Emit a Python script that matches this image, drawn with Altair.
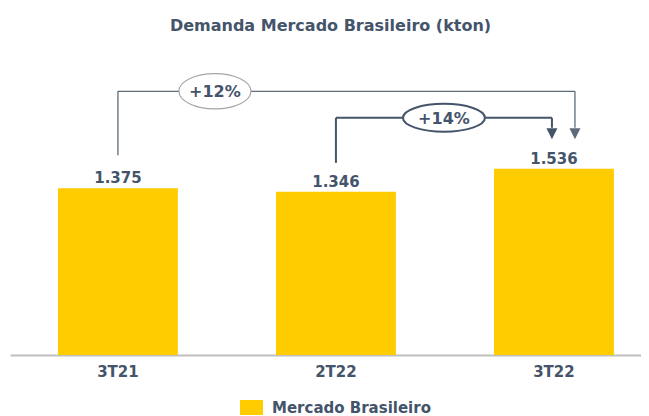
import altair as alt
import pandas as pd

# ---- data ----
categories = ["3T21", "2T22", "3T22"]
values = [1375, 1346, 1536]            # kton
series_name = "Mercado Brasileiro"
title_text = "Demanda Mercado Brasileiro (kton)"
comparisons = [("3T21", "3T22"), ("2T22", "3T22")]

# ---- derived ----
value_labels = [f"{v:,}".replace(",", ".") for v in values]
df = pd.DataFrame({"cat": categories, "value": values,
                   "label": value_labels, "serie": series_name})
val = dict(zip(categories, values))

DARK = "#44546A"
FONT = "DejaVu Sans"
YELLOW = "#FFCC00"

xscale = alt.Scale(domain=categories, paddingInner=0.45,
                   paddingOuter=0.1722, align=0.639)
yscale = alt.Scale(domain=[0, 2615], nice=False, zero=True)

xaxis = alt.Axis(title=None, labelAngle=0, domainColor="#BFBFBF",
                 domainWidth=2, ticks=False, labelFont=FONT,
                 labelFontSize=15, labelFontWeight="bold",
                 labelColor=DARK, labelPadding=9, grid=False)

bars = alt.Chart(df).mark_bar().encode(
    x=alt.X("cat:N", scale=xscale, axis=xaxis, sort=categories),
    y=alt.Y("value:Q", scale=yscale, axis=None),
    color=alt.Color("serie:N", scale=alt.Scale(range=[YELLOW]),
                    legend=alt.Legend(orient="none", legendX=230, legendY=358,
                                      title=None,
                                      symbolType="M-1,-0.65L1,-0.65L1,0.65L-1,0.65Z",
                                      symbolSize=529, symbolStrokeWidth=0,
                                      labelFont=FONT, labelFontSize=15,
                                      labelFontWeight="bold", labelColor=DARK,
                                      labelOffset=9, padding=0)),
)

labels = alt.Chart(df).mark_text(font=FONT, fontSize=15, fontWeight="bold",
                                 color=DARK, baseline="alphabetic", dy=-5).encode(
    x=alt.X("cat:N", scale=xscale, sort=categories),
    y=alt.Y("value:Q", scale=yscale),
    text="label:N",
)

styles = [
    dict(level=77.5, gap=33, roff=21, eoff=97, color="#5B6B79", lw=1.3,
         estroke="#A6A6A6", esw=1.2,
         epath="M-1,0A1,0.49,0,1,1,1,0A1,0.49,0,1,1,-1,0Z", esize=5184),
    dict(level=51, gap=29, roff=-2, eoff=108, color=DARK, lw=2,
         estroke=DARK, esw=2,
         epath="M-1,0A1,0.34,0,1,1,1,0A1,0.34,0,1,1,-1,0Z", esize=6724),
]

layers = [bars, labels]
for (a, b), st in zip(comparisons, styles):
    pct = round((val[b] / val[a] - 1) * 100)
    cdf = pd.DataFrame({"a": [a], "b": [b], "va": [val[a]], "vb": [val[b]],
                        "pct": [f"+{pct}%"]})
    base = alt.Chart(cdf)
    xa = alt.X("a:N", scale=xscale, sort=categories)
    xb = alt.X("b:N", scale=xscale, sort=categories)
    yb = alt.Y("vb:Q", scale=yscale)
    left_leg = base.mark_rule(color=st["color"], strokeWidth=st["lw"],
                              yOffset=-st["level"], y2Offset=-st["gap"]).encode(
        x=xa, y=yb, y2="va:Q")
    top = base.mark_rule(color=st["color"], strokeWidth=st["lw"],
                         yOffset=-st["level"], x2Offset=st["roff"]).encode(
        x=xa, x2="b:N", y=yb)
    right_leg = base.mark_rule(color=st["color"], strokeWidth=st["lw"],
                               xOffset=st["roff"], yOffset=-st["level"],
                               y2Offset=-41).encode(
        x=xb, y=yb, y2="vb:Q")
    head = base.mark_point(shape="M-1,-1L1,-1L0,1Z", size=121, filled=True,
                           color=st["color"], opacity=1, xOffset=st["roff"],
                           yOffset=-35).encode(x=xb, y=yb)
    ell = base.mark_point(shape=st["epath"], size=st["esize"], filled=True,
                          fill="white", stroke=st["estroke"],
                          strokeWidth=st["esw"], opacity=1,
                          xOffset=st["eoff"], yOffset=-st["level"]).encode(x=xa, y=yb)
    txt = base.mark_text(font=FONT, fontSize=16, fontWeight="bold", color=DARK,
                         baseline="middle", dy=1, xOffset=st["eoff"],
                         yOffset=-st["level"]).encode(x=xa, y=yb, text="pct:N")
    layers += [left_leg, top, right_leg, head, ell, txt]

chart = alt.layer(*layers).properties(
    width=631, height=317,
    autosize=alt.AutoSizeParams(type="none"),
    padding={"left": 2, "top": 30, "right": 0, "bottom": 60},
    title=alt.TitleParams(text=title_text, font=FONT, fontSize=16,
                          fontWeight="bold", color=DARK, anchor="middle",
                          offset=8, baseline="alphabetic", dx=5, dy=17),
).configure_view(stroke=None)

chart.save("out.html", embed_options={"renderer": "svg", "actions": False})
